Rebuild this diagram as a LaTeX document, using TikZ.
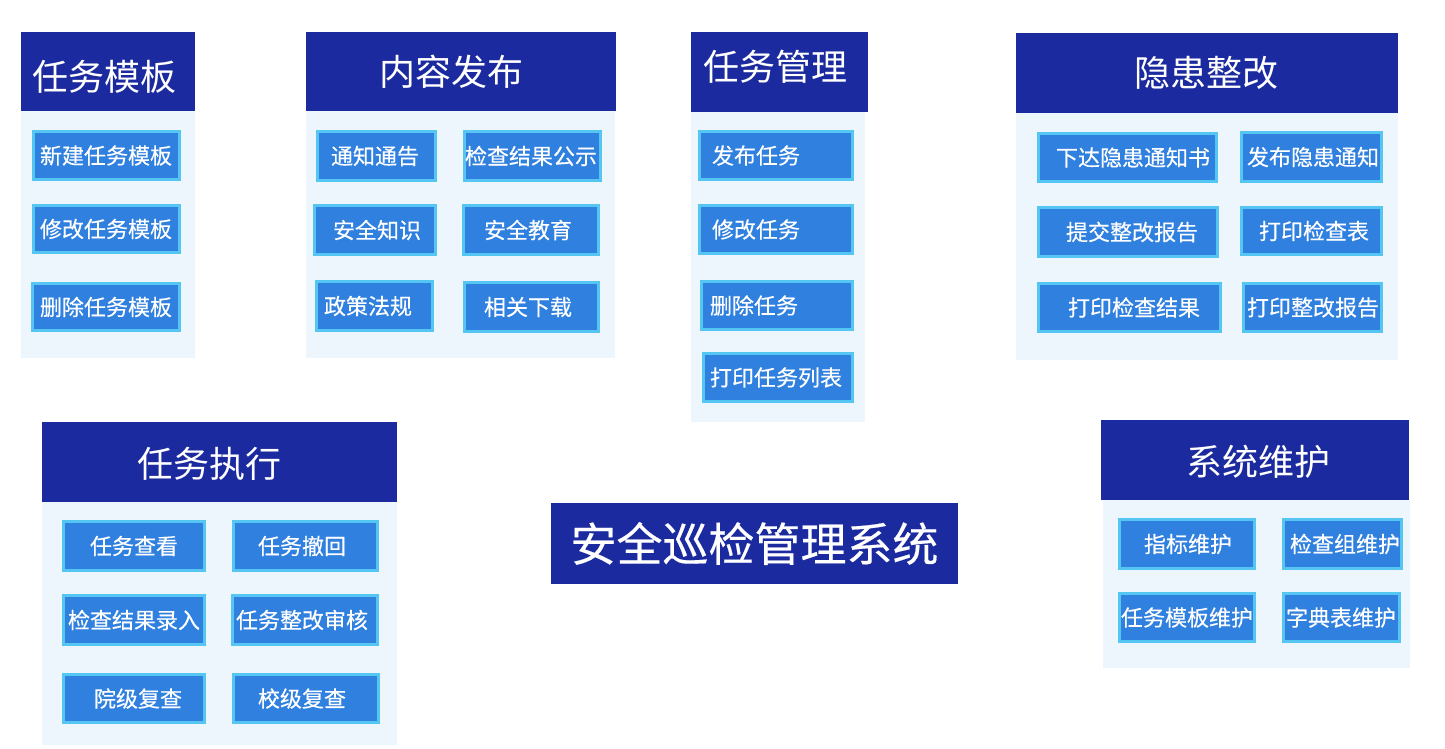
\documentclass[tikz,border=0pt]{standalone}
\usepackage{fontspec}
\setmainfont{Noto Sans CJK SC}
\newfontfamily\btnfont[FakeBold=0.35]{Noto Sans CJK SC}
\definecolor{hdrblue}{HTML}{1B2A9E}
\definecolor{bodybg}{HTML}{EEF6FD}
\definecolor{btnfill}{HTML}{2F80DF}
\definecolor{btnedge}{HTML}{55C6F1}
\tikzset{
  x=1pt, y=-1pt,
  panelbody/.style={fill=bodybg, draw=none, inner sep=0pt, outer sep=0pt},
  panelhead/.style={fill=hdrblue, draw=none, inner sep=0pt, outer sep=0pt},
  btnbox/.style={fill=btnfill, draw=btnedge, line width=3.4pt, inner sep=0pt, outer sep=0pt},
  btntext/.style={text=white, font=\btnfont\fontsize{22}{24}\selectfont, inner sep=0pt},
  headtext/.style={text=white, font=\fontsize{36}{40}\selectfont, inner sep=0pt},
  titletext/.style={text=white, font=\btnfont\fontsize{46}{50}\selectfont, inner sep=0pt},
}
% plain rectangle by corners: style, name, x1, y1, x2, y2
\newcommand\plainbox[6]{\node[#1, minimum width={#5-#3}, minimum height={#6-#4}] (#2) at ({(#3+#5)/2},{(#4+#6)/2}) {};}
% button: name, x1, y1, x2, y2, text-center-x, text
\newcommand\btn[7]{%
  \node[btnbox, minimum width={#4-#2-3.4}, minimum height={#5-#3-3.4}] (#1) at ({(#2+#4)/2},{(#3+#5)/2}) {};
  \node[btntext] (#1-t) at ({#6},{(#3+#5)/2}) {#7};}
% header: name, x1, y1, x2, y2, text-center-x, text-center-y, text
\newcommand\hdr[8]{%
  \plainbox{panelhead}{#1}{#2}{#3}{#4}{#5}
  \node[headtext] (#1-t) at ({#6},{#7}) {#8};}
\begin{document}
\begin{tikzpicture}
\useasboundingbox[fill=white] (0,0) rectangle (1445,748);

% ---------- 任务模板 ----------
\plainbox{panelbody}{p1body}{21}{111}{195}{358}
\hdr{p1head}{21}{32}{195}{111}{104}{77}{任务模板}
\btn{p1b1}{32}{130}{181}{181}{106}{新建任务模板}
\btn{p1b2}{32}{204}{181}{254}{106}{修改任务模板}
\btn{p1b3}{31}{282}{181}{332}{106}{删除任务模板}

% ---------- 内容发布 ----------
\plainbox{panelbody}{p2body}{306}{111}{615}{358}
\hdr{p2head}{306}{32}{616}{111}{451}{71.5}{内容发布}
\btn{p2b1}{316}{130}{437}{182}{375}{通知通告}
\btn{p2b2}{463}{130}{602}{182}{531}{检查结果公示}
\btn{p2b3}{313}{204}{437}{256}{377}{安全知识}
\btn{p2b4}{462}{204}{600}{256}{528}{安全教育}
\btn{p2b5}{315}{280}{434}{332}{368}{政策法规}
\btn{p2b6}{463}{281}{600}{333}{528}{相关下载}

% ---------- 任务管理 ----------
\plainbox{panelbody}{p3body}{691}{112}{865}{422}
\hdr{p3head}{691}{32}{868}{112}{775}{67}{任务管理}
\btn{p3b1}{698}{130}{854}{181}{756}{发布任务}
\btn{p3b2}{698}{204}{854}{255}{756}{修改任务}
\btn{p3b3}{700}{280}{854}{331}{754}{删除任务}
\btn{p3b4}{702}{352}{854}{403}{776}{打印任务列表}

% ---------- 隐患整改 ----------
\plainbox{panelbody}{p4body}{1016}{113}{1398}{360}
\hdr{p4head}{1016}{33}{1398}{113}{1206}{72.5}{隐患整改}
\btn{p4b1}{1037}{132}{1218}{183}{1133}{下达隐患通知书}
\btn{p4b2}{1240}{131}{1383}{183}{1313}{发布隐患通知}
\btn{p4b3}{1037}{206}{1219}{258}{1132}{提交整改报告}
\btn{p4b4}{1240}{206}{1383}{256}{1314}{打印检查表}
\btn{p4b5}{1037}{282}{1222}{333}{1134}{打印检查结果}
\btn{p4b6}{1242}{282}{1383}{333}{1313}{打印整改报告}

% ---------- 任务执行 ----------
\plainbox{panelbody}{p5body}{42}{502}{397}{745}
\hdr{p5head}{42}{422}{397}{502}{209}{464}{任务执行}
\btn{p5b1}{62}{520}{206}{572}{134}{任务查看}
\btn{p5b2}{232}{520}{379}{572}{302}{任务撤回}
\btn{p5b3}{62}{594}{206}{646}{134}{检查结果录入}
\btn{p5b4}{231}{594}{379}{646}{302}{任务整改审核}
\btn{p5b5}{62}{673}{206}{724}{138}{院级复查}
\btn{p5b6}{232}{673}{380}{724}{302}{校级复查}

% ---------- 系统维护 ----------
\plainbox{panelbody}{p6body}{1103}{500}{1410}{668}
\hdr{p6head}{1101}{420}{1409}{500}{1258}{462}{系统维护}
\btn{p6b1}{1118}{518}{1256}{570}{1188}{指标维护}
\btn{p6b2}{1282}{518}{1403}{570}{1345}{检查组维护}
\btn{p6b3}{1118}{592}{1256}{643}{1187}{任务模板维护}
\btn{p6b4}{1282}{592}{1401}{643}{1341}{字典表维护}

% ---------- 中心标题 ----------
\plainbox{panelhead}{center}{551}{503}{958}{584}
\node[titletext] (center-t) at (center.center) {安全巡检管理系统};
\end{tikzpicture}
\end{document}
